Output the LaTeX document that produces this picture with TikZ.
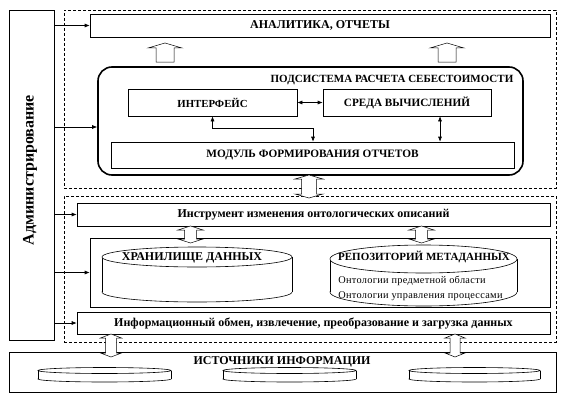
\documentclass[tikz,border=0pt]{standalone}
\usepackage{fontspec}
\setmainfont{Liberation Serif}
\usetikzlibrary{arrows.meta,calc}
\newcommand\blkup[6]{%
  \draw[blk] (#1,#2) -- ({#1+#4},{#2+#6}) -- ({#1+#5},{#2+#6}) -- ({#1+#5},#3)
    -- ({#1-#5},#3) -- ({#1-#5},{#2+#6}) -- ({#1-#4},{#2+#6}) -- cycle;}
\newcommand\blkdbl[6]{%
  \draw[blk] (#1,#2) -- ({#1+#4},{#2+#6}) -- ({#1+#5},{#2+#6}) -- ({#1+#5},{#3-#6})
    -- ({#1+#4},{#3-#6}) -- (#1,#3) -- ({#1-#4},{#3-#6}) -- ({#1-#5},{#3-#6})
    -- ({#1-#5},{#2+#6}) -- ({#1-#4},{#2+#6}) -- cycle;}
\newcommand\mycyl[6]{% x1 x2 ytop ybot rx ry
  \draw[fill=white] ({(#1+#2)/2},#4) ellipse ({#5} and {#6});
  \fill[white] (#1,#3) rectangle (#2,#4);
  \draw (#1,#3) -- (#1,#4) (#2,#3) -- (#2,#4);
  \draw[fill=white] ({(#1+#2)/2},#3) ellipse ({#5} and {#6});}
\begin{document}
\begin{tikzpicture}[x=1pt,y=-1pt,
  line width=0.6pt,
  box/.style={draw,fill=white,inner sep=0pt,minimum width=#1},
  dbox/.style={draw,dash pattern=on 3pt off 2pt,inner sep=0pt},
  blk/.style={draw,fill=white,line width=0.5pt},
  arr/.style={-{Latex[length=5pt,width=4pt]}},
  darr/.style={{Latex[length=5pt,width=4pt]}-{Latex[length=5pt,width=4pt]}},
  bt/.style={font=\bfseries\fontsize{#1}{#1}\selectfont},
  st/.style={font=\fontsize{10.3}{10.3}\selectfont\addfontfeature{LetterSpace=3},anchor=west,inner sep=0pt},
  ]
\useasboundingbox (0,0) rectangle (564,396);
\fill[white] (0,0) rectangle (564,396);
% dashed frames
\node[dbox,minimum width=492pt,minimum height=178pt] (topd) at (310,99) {};
\node[dbox,minimum width=492pt,minimum height=146pt] (botd) at (310,269) {};
% admin
\node[draw,minimum width=45pt,minimum height=330pt,inner sep=0pt] (adm) at (31.5,175) {};
\node[bt=16,rotate=90] (admt) at (30,170) {Администрирование};
% top part
\node[box=460pt,minimum height=23pt,bt=12] (ana) at (320,25.5) {АНАЛИТИКА, ОТЧЕТЫ};
\node[draw,line width=1.6pt,rounded corners=14pt,minimum width=425pt,minimum height=108pt] (sub) at (310.5,121) {};
\node[bt=11,inner sep=0pt] (subt) at (392,80) {ПОДСИСТЕМА РАСЧЕТА СЕБЕСТОИМОСТИ};
\node[box=169pt,minimum height=27pt,bt=10.8] (int) at (212.5,102.5) {ИНТЕРФЕЙС};
\node[box=168pt,minimum height=27pt,bt=11.2] (env) at (407,102.5) {СРЕДА ВЫЧИСЛЕНИЙ};
\node[box=403pt,minimum height=26pt,bt=11.3] (mod) at (312.5,155) {МОДУЛЬ ФОРМИРОВАНИЯ ОТЧЕТОВ};
\draw[darr] (int.east) -- (env.west);
\draw[darr] (int.south) -- ++(0,12) -| (mod.north -| 313,0);
\draw[darr] (env.south -| 440,0) -- (mod.north -| 440,0);
\blkup{165}{43}{62}{17}{9}{5}
\blkup{447}{43}{62}{17}{9}{5}
\blkdbl{309}{175}{198}{14}{7.5}{4}
% bottom part
\node[box=473pt,minimum height=23pt,bt=12] (ins) at (313.5,214.5) {Инструмент изменения онтологических описаний};
\node[box=460pt,minimum height=69pt] (mid) at (320,272.5) {};
\node[box=473pt,minimum height=22pt,bt=12] (inf) at (313.5,323) {Информационный обмен, извлечение, преобразование и загрузка данных};
\mycyl{102}{292}{257}{292}{95}{10}
\node[bt=12] (sto) at (192,258) {ХРАНИЛИЩЕ ДАННЫХ};
\mycyl{330}{517}{259}{292}{93.5}{14}
\node[bt=11,inner sep=0pt] (rep) at (424,257) {РЕПОЗИТОРИЙ МЕТАДАННЫХ};
\node[st] (o1) at (338,281) {Онтологии предметной области};
\node[st] (o2) at (338,296) {Онтологии управления процессами};
\blkdbl{190.5}{226}{243}{12.5}{6}{4}
\blkdbl{421.5}{226}{243}{12.5}{6}{4}
% sources
\node[box=547pt,minimum height=40pt] (src) at (282.5,372) {};
\mycyl{38}{171}{370.5}{379}{66.5}{3}
\mycyl{223}{356}{370.5}{379}{66.5}{3}
\mycyl{409}{540}{370.5}{379}{65.5}{3}
\node[bt=12] (srct) at (282,362) {ИСТОЧНИКИ ИНФОРМАЦИИ};
\blkdbl{111}{334}{357}{10.5}{5.5}{4}
\blkdbl{455}{334}{357}{10}{5}{4}
% admin arrows
\draw[arr] (adm.east |- ana.west) -- (ana.west);
\draw[arr] (adm.east |- 0,127) -- (sub.west |- 0,127);
\draw[arr] (adm.east |- ins.west) -- (ins.west);
\draw[arr] (adm.east |- mid.west) -- (mid.west);
\draw[arr] (adm.east |- inf.west) -- (inf.west);
\end{tikzpicture}
\end{document}
